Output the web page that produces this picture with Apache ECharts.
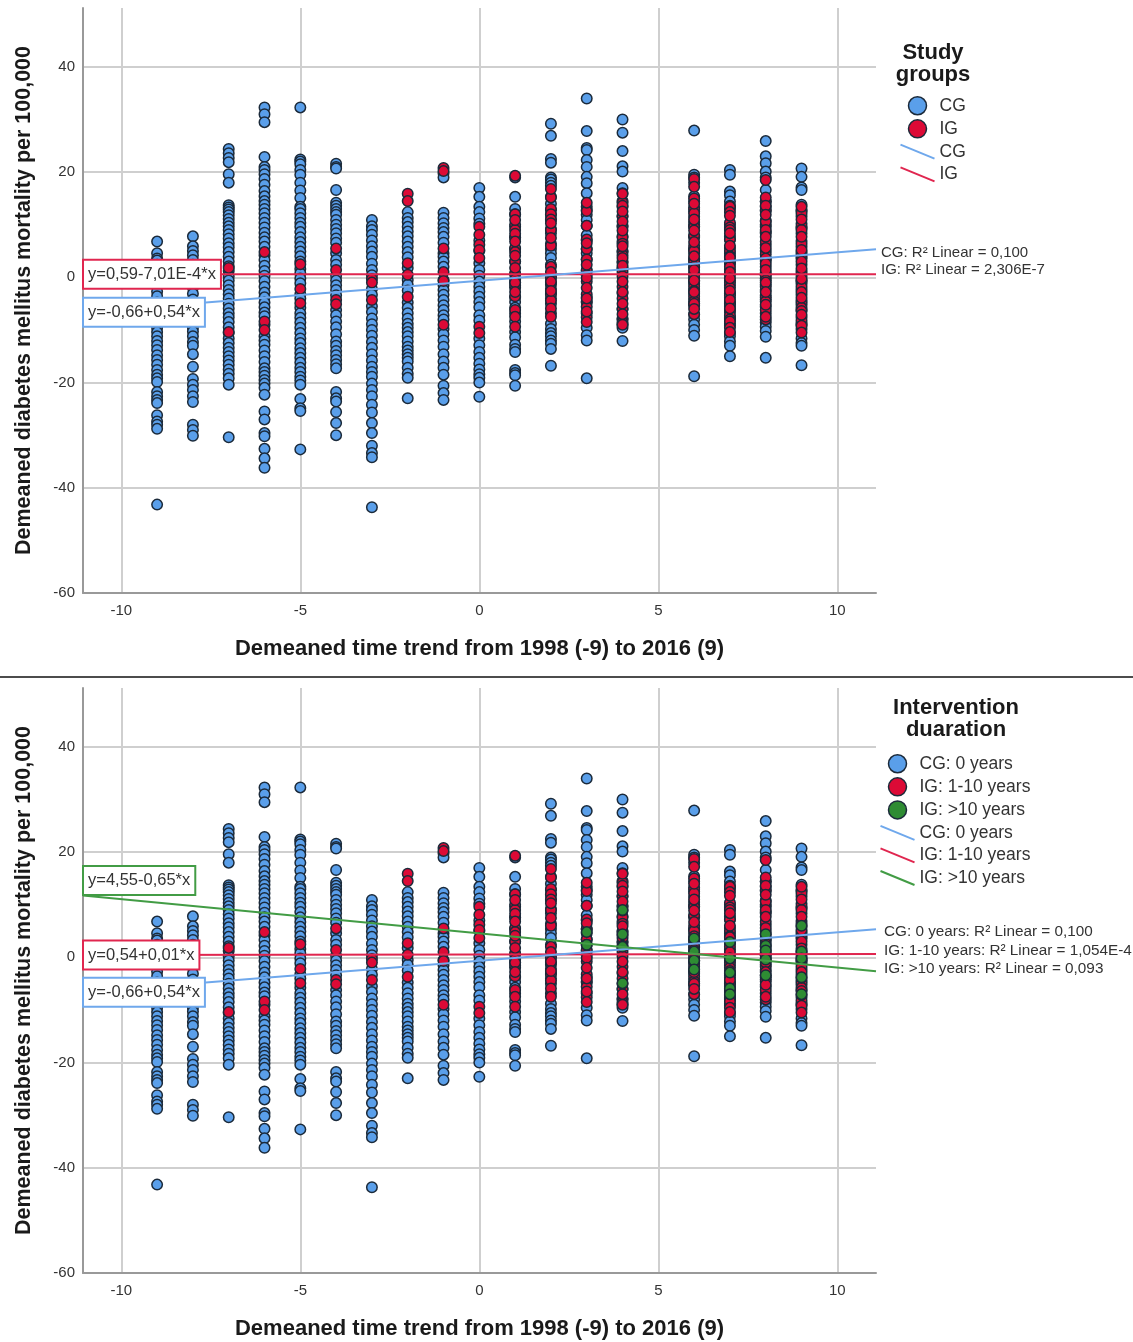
<!DOCTYPE html>
<html><head><meta charset="utf-8">
<script src="https://cdn.jsdelivr.net/npm/echarts@6/dist/echarts.min.js"></script>
<style>html,body{margin:0;padding:0;background:#fff}#c{width:1133px;height:1342px}</style>
</head><body><div id="c"></div>
<script>
const years = [-9,-8,-7,-6,-5,-4,-3,-2,-1,0,1,2,3,4,6,7,8,9];
const xTicks = [-10,-5,0,5,10];
const yTicks = [-60,-40,-20,0,20,40];

const cgM9 = [6.8,4.6,3.6,3.2,2.4,1.5,0.6,-0.4,-1.5,-2.7,-3.6,-4.8,-6,-7.2,-8.3,-9.6,-10.4,-11.2,-12.1,-12.9,-13.8,-14.8,-15.7,-16.6,-17.6,-18.5,-19.2,-19.9,-21.8,-22.6,-23.3,-23.9,-26.2,-27.4,-28,-28.8,-43.2];
const cgM8 = [7.8,5.9,5,4.2,3.3,2.4,1.3,0.2,-0.8,-2,-3.1,-4.2,-5.3,-6.4,-7.5,-8.6,-9.6,-10.3,-11.2,-12.3,-13,-14.6,-17,-19.3,-20.4,-21.4,-22.6,-23.7,-28,-29,-30.1];
const cgM7 = [24.4,23.6,22.7,21.9,19.6,18,13.7,13.3,12.9,12.4,11.8,11.1,10.4,9.7,9,8.2,7.4,6.5,5.7,4.8,3.9,3,2.1,1.2,0.2,-0.6,-1.5,-2.4,-3.2,-4,-5,-5.9,-6.8,-7.6,-8.5,-9.5,-10.6,-11.6,-12.5,-13.4,-14.2,-15,-15.8,-16.6,-17.5,-18.3,-19.2,-20.4,-30.4];
const cgM6 = [32.3,31,29.5,22.9,21,20.4,19.6,18.7,17.6,16.4,15.4,14.5,13.8,13,12.2,11.3,10.4,9.5,8.5,7.6,6.8,5.8,4.2,3.3,2.2,1.2,0.3,-0.7,-1.8,-2.9,-3.8,-4.8,-5.7,-6.7,-7.4,-9,-11.2,-12,-12.8,-13.9,-15,-16.1,-17.3,-18,-18.7,-19.5,-20.2,-21,-22.3,-25.5,-27,-29.6,-30.2,-32.6,-34.4,-36.2];
const cgM5 = [32.3,22.4,22,21.5,20.4,19.5,18,16.5,15.1,13.4,13,12.2,11.3,10.4,9.6,8.6,7.6,6.7,5.8,4.9,4,3,1.6,0.8,-0.2,-1.1,-3.2,-4,-5.8,-6.8,-7.7,-8.6,-9.6,-10.6,-11.6,-12.5,-13.5,-14.4,-15.3,-16.2,-17.2,-18,-18.9,-19.6,-20.4,-23.1,-24.9,-25.4,-32.7];
const cgM4 = [21.6,21,20.7,16.6,14.2,13.6,13,12.4,11.9,10.9,10,9.2,8.4,7.4,6.6,4.6,3.3,2.4,0.3,-0.6,-1.5,-2.4,-3.4,-6.2,-7.2,-8.4,-9.5,-10.8,-12.2,-13,-14,-14.8,-15.7,-16.5,-17.3,-21.8,-23,-23.6,-25.6,-27.7,-30];
const cgM3 = [10.9,9.7,9,8.1,7,5.9,4.9,3.9,2.6,1.4,0.4,-2.2,-3.3,-5.5,-6.6,-7.8,-8.9,-10,-11.1,-12.3,-13.4,-14.6,-15.8,-17,-18,-18.9,-20.2,-21.4,-22.6,-24.2,-25.7,-27.7,-29.6,-32,-33.4,-34.2,-43.7];
const cgM2 = [12.4,11.3,10.5,9.6,8.7,7.8,6.8,5.8,4.8,3.8,1.8,-0.5,-1.4,-2.5,-4.8,-5.8,-6.8,-7.8,-8.8,-9.6,-10.4,-11.2,-12.2,-13.2,-13.9,-14.6,-15.3,-16,-17.2,-18.3,-19.1,-23];
const cgM1 = [19.8,19,12.3,11.3,10.3,9.4,8.6,7.7,6.6,4.6,3.9,3,2,-0.5,-1.5,-2.4,-3.3,-4.3,-5.3,-6.2,-7.2,-8,-9.8,-10.8,-12,-13.2,-14.6,-16,-17.2,-18.5,-20.6,-22,-23.3];
const cg0 = [17,15.3,13.4,12.4,11.2,10.2,7,5,2.7,1.4,0.3,-0.8,-1.8,-2.7,-3.7,-4.7,-5.7,-7.2,-8.2,-11.6,-12.9,-14.2,-15.3,-16.4,-17.5,-18.4,-19.1,-20,-22.7];
const cg1 = [19,15.3,13,12,9.6,7.6,5.4,3,0.6,-1,-2,-3.8,-4.7,-5.8,-6.8,-8.4,-10.4,-11.4,-12.8,-13.6,-14.2,-17.6,-18.2,-18.6,-20.6];
const cg2 = [29.2,26.9,22.5,21.8,19,18.6,18,17.4,15.3,14,12.8,11.9,11,9.2,8.4,6.4,5.4,4.6,3.7,2.4,0,-1.4,-3,-4,-5,-8.8,-9.8,-10.6,-11.2,-12,-12.6,-13.6,-16.8];
const cg3 = [34,27.8,24.6,24.2,22.3,21,19.1,17.9,16,12.8,11.9,10.9,9.8,8,7,5.4,4.6,3.4,1.2,-3.8,-4.8,-9.6,-11,-12,-19.2];
const cg4 = [30,27.5,24,21.1,20.1,17,16,14.5,13.4,11.6,9.8,7.8,6.8,4.8,2.8,1.6,-6,-8,-9,-9.6,-12.1];
const cg6 = [27.9,19.5,19,18,15.4,14.4,13.3,12.5,11.5,10.5,9.6,7.8,5.4,3.6,-0.6,-5,-7,-8,-9,-10,-11.1,-18.8];
const cg7 = [20.4,19.5,16.3,15.6,14.4,13.6,10,9.2,7.2,2.8,-3,-5,-7.8,-10.6,-11.2,-12.2,-13,-15];
const cg8 = [25.9,23,21.7,20.1,19,16.6,14.4,13.4,12.6,10.8,9.6,8.6,3.6,0.4,-8.6,-9.4,-10.2,-11.3,-15.3];
const cg9 = [20.7,19.1,17.1,16.6,13.8,12.6,9.4,3.9,-0.6,-9,-11.6,-12.5,-13,-16.7];

const igM7 = [1.8,-10.4];
const igM6 = [4.8,-8.4,-10];
const igM5 = [2.5,-2.2,-4.9];
const igM4 = [5.5,1.4,-4.3,-5.1];
const igM3 = [-0.3,-1,-4.3];
const igM2 = [15.9,14.5,2.7,0.5,-3.7];
const igM1 = [20.8,20.2,5.5,1,-0.7,-9];
const ig0 = [9.6,8.1,6.2,5.2,3.7,-9.4,-10.6];
const ig1 = [12,10,9,7.6,5.6,4.8,3,0.8,-0.4,-1.6,-3.6,-6.2,19.3,10.9,8.3,6.8,4.1,1.8,-1,-2.8,-7.5,-9.4];
const ig2 = [15.2,13,12,11,9,6,2,0,-1,-2.2,-3.2,-4.4,-6.8,16.8,10.3,7.5,1,-0.8,-2.6,-5.9,-7.5];
const ig3 = [13.4,12.6,9.8,7.2,5.4,3.4,1.4,0.4,-0.8,-3.2,-4.6,-5.6,-6.8,-7.6,14.2,6.5,2.4,-0.1,-2,-4,-6.5,-8.5];
const ig4 = [14.2,13.6,11.6,9.6,7.6,6.4,5,4.2,3,1.8,1,0.2,-1.8,-3,-4,-6,-7.8,-8.6,15.9,12.5,10.6,8.9,5.9,3.7,2.2,-0.8,-2.8,-5,-7,-9];
const ig6 = [15,13,12.2,10,9.6,7.6,5.4,4.6,3.4,2.6,1.9,0.9,0,-1.2,-2.2,-3.1,-4.1,-5.4,-7,14,11,8,6,5,3,2,0.4,-0.8,-1.7,-2.6,-3.6,-4.6,-5,18.7,17.2,8.9,6.7,4,1.4,-0.6,-2.8,-6];
const ig7 = [13,10.4,9.5,7.8,5.6,4.6,2.6,1.5,0.4,-0.6,-1.5,-3,-3.9,-4.7,-5.6,-6.6,-7.6,-9.2,13.4,9,7.2,5,4,3.2,2,1,-1,-2,-3.4,-5,-6.2,-7.2,-8,-8.8,12.4,11.7,8.4,6,3.8,-0.2,-2.6,-4.3,-5.9,-8.4,-9.6,-10.4];
const ig8 = [14.4,12.8,10,8.4,6.2,5,3.1,2,0.9,-0.2,-1.4,-2.4,-3.4,-4.2,-5.6,-6.8,-8,15.2,13.6,10.6,9,6.8,4.4,3.6,2.6,0.4,-0.6,-1.8,-3.8,-4.6,-6.2,18.5,11.9,7.7,5.6,1.4,-1,-2.8,-5.2,-7.5];
const ig9 = [12.8,11.6,9.6,8.4,6.9,5.8,4.8,3.6,2.4,1.2,0.2,-1.2,-2.3,-3.3,-4.4,-5.2,-6.2,-7.6,-8.7,-9.8,12.2,10.2,9,6.4,4.4,3,0.8,-0.8,-1.8,-2.8,-4.8,-5.8,-6.4,-8.2,-9.2,13.4,11,7.7,5.2,1.7,-0.3,-3.9,-7.1,-10.5];

const g3 = [4.8,2.4];
const g4 = [9,4.4,2,-4.9];
const g6 = [3.6,1.1,-0.6,-2.3];
const g7 = [2.9,-0.2,-2.9,-5.9,-7];
const g8 = [4.4,2.2,1.3,-0.4,-3.4];
const g9 = [6,1.1,-0.2,-3.8,-7];

const cgColumns = [cgM9,cgM8,cgM7,cgM6,cgM5,cgM4,cgM3,cgM2,cgM1,cg0,cg1,cg2,cg3,cg4,cg6,cg7,cg8,cg9];
const igColumns = [[],[],igM7,igM6,igM5,igM4,igM3,igM2,igM1,ig0,ig1,ig2,ig3,ig4,ig6,ig7,ig8,ig9];
const greenYears = [3,4,6,7,8,9];
const greenColumns = [g3,g4,g6,g7,g8,g9];

const xEnds = [-11.07,11.08];
const cgFit = [-6.64,5.32];
const igFit1 = [0.60,0.58];
const igFit2 = [0.43,0.65];
const greenFit = [11.75,-2.65];

const BLUE='#5a9fea', RED='#dc0a36', GREEN='#2e8c33', EDGE='#1b2a3a';
const LBLUE='#6fa8ec', LRED='#e0264f', LGREEN='#429c45';
const FONT='"Liberation Sans", Arial, sans-serif';
const pts=(xs,cols)=>xs.flatMap((x,i)=>cols[i].map(v=>[x,v]));

function scatter(name,data,color,gi,z){
  return {type:'scatter',name,data,xAxisIndex:gi,yAxisIndex:gi,symbolSize:10.5,z,
    itemStyle:{color,borderColor:EDGE,borderWidth:1.5,opacity:1},emphasis:{disabled:true},animation:false};
}
function fit(name,vals,color,gi,box,boxOffset,endText,endOffset,endSize,endDist){
  return {type:'line',name,xAxisIndex:gi,yAxisIndex:gi,z:6,symbol:'circle',showSymbol:true,symbolSize:0.01,
    lineStyle:{color,width:2},itemStyle:{color},animation:false,silent:true,clip:false,
    data:[
      {value:[xEnds[0],vals[0]],label:{show:true,position:'right',distance:1,offset:[0,boxOffset],formatter:box,
        fontFamily:FONT,fontSize:16.5,color:'#333',backgroundColor:'#fff',borderColor:color,borderWidth:2,padding:[5,4,5,4]}},
      {value:[xEnds[1],vals[1]],label:{show:true,position:'right',distance:endDist,offset:[0,endOffset],formatter:endText,
        fontFamily:FONT,fontSize:endSize,color:'#333'}}
    ]};
}
const axisCommon={
  axisLine:{onZero:false,lineStyle:{color:'#999',width:2}},
  axisTick:{show:false},
  splitLine:{show:true,lineStyle:{color:'#cfcfcf',width:2}},
};
function xAxis(gi){return {...axisCommon,type:'value',gridIndex:gi,min:xEnds[0],max:xEnds[1],
  axisTick:{show:false,customValues:xTicks},
  axisLabel:{customValues:xTicks,margin:10,fontFamily:FONT,fontSize:15,color:'#333'},
  splitLine:{show:true,customValues:xTicks,lineStyle:{color:'#cfcfcf',width:2}},
  name:'Demeaned time trend from 1998 (-9) to 2016 (9)',nameLocation:'middle',nameGap:45,
  nameTextStyle:{fontFamily:FONT,fontSize:22,fontWeight:'bold',color:'#1a1a1a'}};}
function yAxis(gi){return {...axisCommon,type:'value',gridIndex:gi,min:-60,max:51.2,
  axisTick:{show:false,customValues:yTicks},
  axisLabel:{customValues:yTicks,margin:8,padding:[3,0,0,0],fontFamily:FONT,fontSize:15,color:'#333'},
  splitLine:{show:true,customValues:yTicks,lineStyle:{color:'#cfcfcf',width:2}},
  name:'Demeaned diabetes mellitus mortality per 100,000',nameLocation:'middle',nameGap:48,
  nameTextStyle:{fontFamily:FONT,fontSize:21.5,fontWeight:'bold',color:'#1a1a1a'}};}

function legendItems(names,colors){
  return names.flatMap((n,i)=>[{name:n,icon:'circle',itemStyle:{color:colors[i][0],borderColor:EDGE,borderWidth:1.5}}])
   .concat(names.map((n,i)=>({name:n+' line',icon:'path://M0,0L34,14',itemStyle:{color:'none',borderColor:colors[i][1],borderWidth:2}})));
}
const legendBase={orient:'vertical',itemWidth:34,itemHeight:18,itemGap:3.6,selectedMode:false,
  formatter:n=>n.replace(' line',''),textStyle:{fontFamily:FONT,fontSize:17.5,color:'#333'}};

const option={
  backgroundColor:'#fff',animation:false,
  grid:[{left:83,top:8,width:793,height:585},{left:83,top:688,width:793,height:585}],
  xAxis:[xAxis(0),xAxis(1)],
  yAxis:[yAxis(0),yAxis(1)],
  title:[
    {text:'Study\ngroups',left:933,top:42,textAlign:'center',textStyle:{fontFamily:FONT,fontSize:22,fontWeight:'bold',lineHeight:22,color:'#1a1a1a'},padding:0},
    {text:'Intervention\nduaration',left:956,top:697,textAlign:'center',textStyle:{fontFamily:FONT,fontSize:22,fontWeight:'bold',lineHeight:22,color:'#1a1a1a'},padding:0}
  ],
  legend:[
    {...legendBase,left:898,top:96,padding:0,data:legendItems(['CG','IG'],[[BLUE,LBLUE],[RED,LRED]])},
    {...legendBase,left:878,top:754,padding:0,data:legendItems(['CG: 0 years','IG: 1-10 years','IG: >10 years'],[[BLUE,LBLUE],[RED,LRED],[GREEN,LGREEN]])}
  ],
  series:[
    scatter('CG',pts(years,cgColumns),BLUE,0,2),
    scatter('IG',pts(years,igColumns),RED,0,3),
    fit('IG line',igFit1,LRED,0,'y=0,59-7,01E-4*x',0,'IG: R² Linear = 2,306E-7',-4,15,5),
    fit('CG line',cgFit,LBLUE,0,'y=-0,66+0,54*x',0,'CG: R² Linear = 0,100',3,15,5),
    scatter('CG: 0 years',pts(years,cgColumns),BLUE,1,2),
    scatter('IG: 1-10 years',pts(years,igColumns),RED,1,3),
    scatter('IG: >10 years',pts(greenYears,greenColumns),GREEN,1,4),
    fit('IG: 1-10 years line',igFit2,LRED,1,'y=0,54+0,01*x',0,'IG: 1-10 years: R² Linear = 1,054E-4',-3,15.3,8),
    fit('CG: 0 years line',cgFit,LBLUE,1,'y=-0,66+0,54*x',0,'CG: 0 years: R² Linear = 0,100',2,15.3,8),
    fit('IG: >10 years line',greenFit,LGREEN,1,'y=4,55-0,65*x',-15,'IG: >10 years: R² Linear = 0,093',-3,15.3,8)
  ],
  graphic:[{type:'line',shape:{x1:0,y1:677,x2:1133,y2:677},style:{stroke:'#111',lineWidth:1.5},silent:true}]
};
const chart=echarts.init(document.getElementById('c'),null,{renderer:'canvas'});
chart.setOption(option);
</script></body></html>
